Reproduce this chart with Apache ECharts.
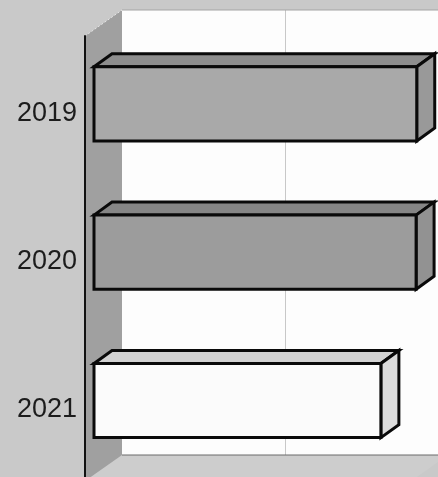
<!DOCTYPE html>
<html>
<head>
<meta charset="utf-8">
<style>
    html, body { margin: 0; padding: 0; background: #c9c9c9; }
    #chart { width: 438px; height: 477px; }
</style>
<script src="https://cdn.jsdelivr.net/npm/echarts@6/dist/echarts.min.js"></script>
</head>
<body>
<div id="chart"></div>
<script>
const years = ['2019', '2020', '2021'];
const values = [99, 98.8, 88];
const xTicks = { min: 0, max: 100, interval: 50 };

// face colours for each bar: front, top, side
const frontColors = ['#a9a9a9', '#9c9c9c', '#fbfbfb'];
const topColors = ['#8e8e8e', '#868686', '#d2d2d2'];
const sideColors = ['#999999', '#929292', '#dcdcdc'];

document.addEventListener('DOMContentLoaded', function () {
    const chart = echarts.init(document.getElementById('chart'));

    // bar sits between these depths, measured from the front plane of the box
    const nearX = 9, nearY = -6.3, farX = 27, farY = -19.3;

    const renderBar = (params, api) => {
        const i = api.value(1);
        const start = api.coord([0, i]);
        const end = api.coord([api.value(0), i]);
        const half = api.size([0, 1])[1] * 0.25;
        const x0 = start[0] + nearX, x1 = end[0] + nearX;
        const y0 = start[1] + nearY - half, y1 = start[1] + nearY + half;
        const dx = farX - nearX, dy = farY - nearY;
        const line = { stroke: '#0a0a0a', lineWidth: 3, lineJoin: 'miter' };
        return {
            type: 'group',
            children: [
                {
                    type: 'polygon',
                    shape: { points: [[x0, y0], [x0 + dx, y0 + dy], [x1 + dx, y0 + dy], [x1, y0]] },
                    style: { fill: topColors[i], ...line }
                },
                {
                    type: 'polygon',
                    shape: { points: [[x1, y0], [x1 + dx, y0 + dy], [x1 + dx, y1 + dy], [x1, y1]] },
                    style: { fill: sideColors[i], ...line }
                },
                {
                    type: 'rect',
                    shape: { x: x0, y: y0, width: x1 - x0, height: y1 - y0 },
                    style: { fill: frontColors[i], ...line }
                }
            ]
        };
    };

    chart.setOption({
        animation: false,
        backgroundColor: '#c9c9c9',
        grid: [
            // back wall, carries the gridline; runs past the window like the reference
            { left: 122, top: 10, width: 326, height: 445, outerBoundsMode: 'none', show: true, backgroundColor: '#fdfdfd', borderWidth: 0 },
            // front plane, carries the labels and the bars
            { left: 85, top: 36, width: 326, height: 445, outerBoundsMode: 'none' }
        ],
        xAxis: [
            {
                gridIndex: 0, type: 'value', ...xTicks,
                axisLine: { show: false }, axisTick: { show: false }, axisLabel: { show: false },
                splitLine: { show: true, showMinLine: false, showMaxLine: false, lineStyle: { color: '#c8c8c8', width: 1 } }
            },
            {
                gridIndex: 1, type: 'value', ...xTicks,
                axisLine: { show: false }, axisTick: { show: false }, axisLabel: { show: false }, splitLine: { show: false }
            }
        ],
        yAxis: [
            { gridIndex: 0, type: 'category', data: years, inverse: true, show: false },
            {
                gridIndex: 1, type: 'category', data: years, inverse: true, z: 5,
                axisLine: { show: true, onZero: false, lineStyle: { color: '#111111', width: 2 } },
                axisTick: { show: false },
                axisLabel: {
                    margin: 8,
                    formatter: '{year|{value}}',
                    rich: {
                        year: { fontSize: 27, color: '#1c1c1c', fontFamily: 'Liberation Sans', padding: [6, 0, 0, 0] }
                    }
                }
            }
        ],
        graphic: [
            // floor
            {
                type: 'polygon', z: 1,
                shape: { points: [[85, 481], [122, 455], [448, 455], [411, 481]] },
                style: { fill: '#cdcdcd' }
            },
            // left wall
            {
                type: 'polygon', z: 1,
                shape: { points: [[85, 36], [122, 10], [122, 455], [85, 481]] },
                style: { fill: '#a0a0a0' }
            },
            {
                type: 'polyline', z: 1,
                shape: { points: [[85, 36], [122, 10]] },
                style: { stroke: '#e4e4e4', lineWidth: 1, lineDash: [2, 2], fill: null }
            },
            // edges of the back wall
            {
                type: 'polyline', z: 1,
                shape: { points: [[122, 10], [438, 10]] },
                style: { stroke: '#a4a4a4', lineWidth: 1, fill: null }
            },
            {
                type: 'polyline', z: 1,
                shape: { points: [[122, 455], [438, 455]] },
                style: { stroke: '#6a6a6a', lineWidth: 1, fill: null }
            }
        ],
        series: [
            {
                type: 'custom',
                xAxisIndex: 1,
                yAxisIndex: 1,
                z: 3,
                renderItem: renderBar,
                encode: { x: 0, y: 1 },
                data: values.map((v, i) => [v, i])
            }
        ]
    });
});
</script>
</body>
</html>
